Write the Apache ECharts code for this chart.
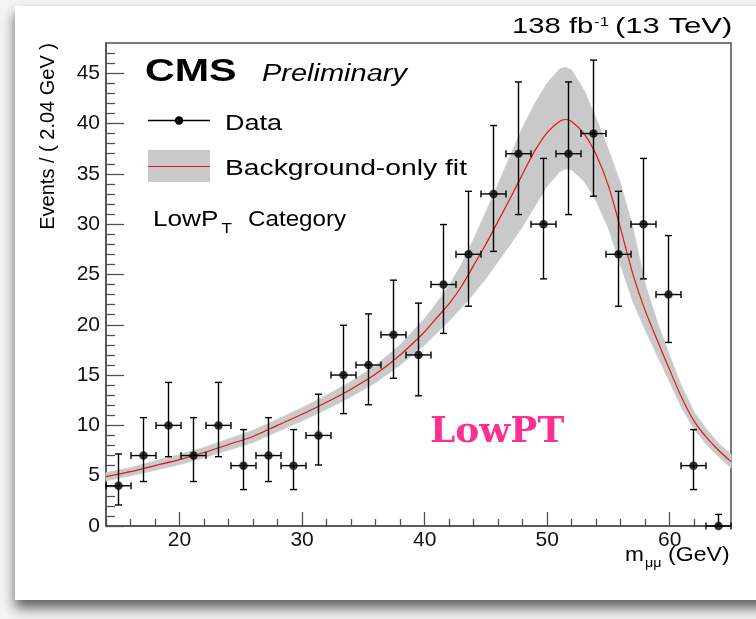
<!DOCTYPE html>
<html>
<head>
<meta charset="utf-8">
<script src="https://cdn.jsdelivr.net/npm/echarts@6/dist/echarts.min.js"></script>
<style>
  html, body { margin: 0; padding: 0; background: #f4f4f4; }
  #chart { width: 756px; height: 619px; }
</style>
</head>
<body>
<div id="chart"></div>
<script>
// Dimuon mass spectrum, low-pT category: binned data with Poisson error bars
const binCenter = [15.02, 17.06, 19.10, 21.14, 23.18, 25.22, 27.26, 29.30, 31.34, 33.38,
                   35.42, 37.46, 39.50, 41.54, 43.58, 45.62, 47.66, 49.70, 51.74, 53.78,
                   55.82, 57.86, 59.90, 61.94, 63.98];
const binHalfWidth = 1.02;
const counts    = [4, 7, 10, 7, 10, 6, 7, 6, 9, 15, 16, 19, 17, 24, 27, 33, 37, 30, 37, 39, 27, 30, 23, 6, 0];
const countLow  = [2.09, 4.42, 6.89, 4.42, 6.89, 3.62, 4.42, 3.62, 6.06, 11.17, 12.05, 14.68, 12.94,
                   19.14, 21.84, 27.29, 30.95, 24.56, 30.95, 32.78, 21.84, 24.56, 18.24, 3.62, 0];
const countHigh = [7.16, 10.77, 14.27, 10.77, 14.27, 9.58, 10.77, 9.58, 13.10, 19.95, 21.08, 24.43, 22.15,
                   29.96, 33.26, 39.80, 44.13, 36.53, 44.13, 46.30, 33.26, 36.53, 28.86, 9.58, 1.15];

// Background-only fit: central curve and uncertainty band
const fitMass    = [14, 16, 18, 20, 22, 24, 26, 28, 30, 32, 34, 36, 38, 40, 41, 42, 43, 44, 45, 46,
                    47, 48, 49, 50, 51, 51.5, 52, 53, 54, 55, 56, 57, 58, 59, 60, 61, 62, 63, 64, 65];
const fitCentral = [4.9, 5.4, 6.0, 6.6, 7.3, 8.1, 8.9, 10.0, 11.1, 12.3, 13.6, 15.1, 17.0, 19.3, 20.7, 22.1,
                    23.8, 25.9, 28.0, 30.3, 32.6, 35.0, 37.3, 39.1, 40.2, 40.4, 40.2, 39.0, 36.9, 33.8,
                    29.5, 25.0, 21.4, 18.4, 15.5, 12.7, 10.4, 8.8, 7.5, 6.4];
const fitLow     = [4.5, 5.0, 5.55, 6.1, 6.8, 7.55, 8.3, 9.4, 10.45, 11.6, 12.85, 14.25, 16.0, 18.0, 19.2, 20.4,
                    21.7, 23.1, 24.6, 26.3, 28.0, 29.8, 31.8, 33.8, 35.2, 35.5, 35.4, 34.3, 32.3, 29.6,
                    25.9, 22.3, 19.5, 16.9, 14.3, 11.7, 9.6, 8.1, 6.9, 5.8];
const fitHigh    = [5.3, 5.8, 6.45, 7.1, 7.8, 8.65, 9.5, 10.6, 11.75, 13.0, 14.35, 15.95, 18.0, 20.6, 22.2, 23.9,
                    26.0, 28.5, 31.2, 34.0, 36.8, 39.6, 42.0, 44.0, 45.4, 45.6, 45.3, 43.3, 40.5, 37.4,
                    34.0, 29.6, 24.0, 20.2, 16.9, 13.8, 11.3, 9.6, 8.2, 7.1];

// Axis ticks
const xMajorTicks = [20, 30, 40, 50, 60];
const xMinorTicks = [14, 16, 18, 22, 24, 26, 28, 32, 34, 36, 38, 42, 44, 46, 48, 52, 54, 56, 58, 62, 64];
const yMajorTicks = [0, 5, 10, 15, 20, 25, 30, 35, 40, 45];
const yMinorTicks = [1, 2, 3, 4, 6, 7, 8, 9, 11, 12, 13, 14, 16, 17, 18, 19, 21, 22, 23, 24, 26, 27, 28, 29,
                     31, 32, 33, 34, 36, 37, 38, 39, 41, 42, 43, 44, 46, 47];

const X_MIN = 14, X_MAX = 65, Y_MIN = 0, Y_MAX = 48;
const AXIS_COLOR = '#505050';
const SANS = '"Liberation Sans", Arial, Helvetica, sans-serif';

const chart = echarts.init(document.getElementById('chart'), null, { renderer: 'canvas' });

// Text placed by its baseline: the anchor is moved to the middle of the glyphs
function txt(text, x, baseline, size, opts) {
  opts = opts || {};
  return {
    type: 'text', x: x, y: baseline - 0.35 * size, z: 100, silent: true,
    scaleX: opts.scaleX || 1,
    style: {
      text: text,
      font: (opts.style || '') + ' ' + (opts.weight || 'normal') + ' ' + size + 'px ' + (opts.family || SANS),
      fill: opts.color || '#000',
      textAlign: opts.align || 'left',
      textVerticalAlign: 'middle'
    }
  };
}

const xAxisBase = { type: 'value', min: X_MIN, max: X_MAX, splitLine: { show: false } };
const yAxisBase = { type: 'value', min: Y_MIN, max: Y_MAX, splitLine: { show: false } };

const option = {
  backgroundColor: '#f4f4f4',
  animation: false,
  grid: {
    left: 106, right: 25, top: 43, bottom: 93,
    show: true, borderColor: AXIS_COLOR, borderWidth: 1.5, backgroundColor: 'transparent'
  },
  xAxis: [
    Object.assign({}, xAxisBase, {
      position: 'bottom',
      axisLine: { show: true, lineStyle: { color: AXIS_COLOR, width: 1.5 } },
      axisTick: { show: true, inside: true, length: 14, customValues: xMajorTicks,
                  lineStyle: { color: AXIS_COLOR, width: 1.3 } },
      axisLabel: { show: true, customValues: xMajorTicks, margin: 4,
                   fontFamily: SANS, fontSize: 21, color: '#111' }
    }),
    Object.assign({}, xAxisBase, {
      position: 'bottom',
      axisLine: { show: false },
      axisTick: { show: true, inside: true, length: 7, customValues: xMinorTicks,
                  lineStyle: { color: AXIS_COLOR, width: 1.3 } },
      axisLabel: { show: false }
    })
  ],
  yAxis: [
    Object.assign({}, yAxisBase, {
      position: 'left',
      axisLine: { show: true, lineStyle: { color: AXIS_COLOR, width: 1.5 } },
      axisTick: { show: true, inside: true, length: 18, customValues: yMajorTicks,
                  lineStyle: { color: AXIS_COLOR, width: 1.3 } },
      axisLabel: { show: true, customValues: yMajorTicks, margin: 6,
                   fontFamily: SANS, fontSize: 21, color: '#111' }
    }),
    Object.assign({}, yAxisBase, {
      position: 'left',
      axisLine: { show: false },
      axisTick: { show: true, inside: true, length: 9, customValues: yMinorTicks,
                  lineStyle: { color: AXIS_COLOR, width: 1.3 } },
      axisLabel: { show: false }
    })
  ],
  series: [
    {
      // uncertainty band of the fit, drawn as one closed polygon
      name: 'band', type: 'custom', xAxisIndex: 0, yAxisIndex: 0, z: 1, silent: true,
      data: [[X_MIN]],
      renderItem: function (params, api) {
        const pts = [];
        for (let i = 0; i < fitMass.length; i++) pts.push(api.coord([fitMass[i], fitHigh[i]]));
        for (let i = fitMass.length - 1; i >= 0; i--) pts.push(api.coord([fitMass[i], fitLow[i]]));
        return {
          type: 'polygon',
          shape: { points: pts },
          style: { fill: '#c9c9c9', stroke: '#cfcfcf', lineWidth: 1 }
        };
      }
    },
    {
      name: 'fit', type: 'line', xAxisIndex: 0, yAxisIndex: 0, z: 2, silent: true,
      data: fitMass.map((m, i) => [m, fitCentral[i]]),
      symbol: 'none', smooth: 0.25,
      lineStyle: { color: '#e3141c', width: 1.2 }
    },
    {
      name: 'errors', type: 'custom', xAxisIndex: 0, yAxisIndex: 0, z: 3, silent: true, clip: false,
      data: binCenter.map((x, i) => [x, counts[i], countLow[i], countHigh[i], binHalfWidth]),
      renderItem: function (params, api) {
        const x = api.value(0), y = api.value(1);
        const lo = api.coord([x, api.value(2)]);
        const hi = api.coord([x, api.value(3)]);
        const l = api.coord([x - api.value(4), y]);
        const r = api.coord([x + api.value(4), y]);
        const cap = 3.5;
        const st = { stroke: '#000', lineWidth: 1.4 };
        const seg = (x1, y1, x2, y2) => ({ type: 'line', shape: { x1, y1, x2, y2 }, style: st });
        return {
          type: 'group',
          children: [
            seg(lo[0], lo[1], hi[0], hi[1]),
            seg(hi[0] - cap, hi[1], hi[0] + cap, hi[1]),
            seg(lo[0] - cap, lo[1], lo[0] + cap, lo[1]),
            seg(l[0], l[1], r[0], r[1]),
            seg(l[0], l[1] - cap, l[0], l[1] + cap),
            seg(r[0], r[1] - cap, r[0], r[1] + cap)
          ]
        };
      }
    },
    {
      name: 'Data', type: 'scatter', xAxisIndex: 0, yAxisIndex: 0, z: 4, silent: true, clip: false,
      data: binCenter.map((x, i) => [x, counts[i]]),
      symbol: 'circle', symbolSize: 8.5,
      itemStyle: { color: '#000' }
    }
  ],
  graphic: [
    // white card with drop shadow behind the plot
    {
      type: 'rect', z: -100, silent: true,
      shape: { x: 15, y: 6, width: 780, height: 594 },
      style: { fill: '#ffffff', shadowBlur: 12, shadowColor: 'rgba(0,0,0,0.62)', shadowOffsetY: 8 }
    },
    // header texts
    txt('CMS', 145, 83, 31, { weight: 'bold', scaleX: 1.33 }),
    txt('Preliminary', 262, 83, 23, { style: 'italic', scaleX: 1.26 }),
    txt('138 fb', 512, 35, 22, { scaleX: 1.33 }),
    txt('-1', 594, 27, 13, { scaleX: 1.3 }),
    txt('(13 TeV)', 615, 35, 22, { scaleX: 1.41 }),
    // legend: data
    { type: 'line', z: 100, silent: true, shape: { x1: 148, y1: 120.5, x2: 210, y2: 120.5 },
      style: { stroke: '#000', lineWidth: 1.4 } },
    { type: 'circle', z: 101, silent: true, shape: { cx: 179, cy: 120.5, r: 4.2 }, style: { fill: '#000' } },
    txt('Data', 225, 131.5, 22, { scaleX: 1.23 }),
    // legend: fit
    { type: 'rect', z: 100, silent: true, shape: { x: 148, y: 150, width: 62, height: 32 },
      style: { fill: '#c9c9c9' } },
    { type: 'line', z: 101, silent: true, shape: { x1: 148, y1: 166.5, x2: 210, y2: 166.5 },
      style: { stroke: '#e3141c', lineWidth: 1.2 } },
    txt('Background-only fit', 225, 177, 22, { scaleX: 1.285 }),
    // category label
    txt('LowP', 153, 228, 22, { scaleX: 1.19 }),
    txt('T', 221.5, 234, 14, { scaleX: 1.22 }),
    txt('Category', 248, 228, 22, { scaleX: 1.1 }),
    // axis titles
    {
      type: 'text', x: 48, y: 43, rotation: Math.PI / 2, z: 100, silent: true,
      style: { text: 'Events / ( 2.04 GeV )', font: 'normal 20px ' + SANS, fill: '#000',
               textAlign: 'right', textVerticalAlign: 'middle' }
    },
    txt('m', 625, 563, 21, { scaleX: 1.08 }),
    txt('\u03bc\u03bc', 645, 568, 13, { scaleX: 1.1 }),
    txt('(GeV)', 668, 563, 21, { scaleX: 1.1 }),
    // category tag
    txt('LowPT', 430, 445, 36, { weight: 'bold', family: '"DejaVu Serif", serif', color: '#fe2f93' })
  ]
};

chart.setOption(option);
</script>
</body>
</html>
